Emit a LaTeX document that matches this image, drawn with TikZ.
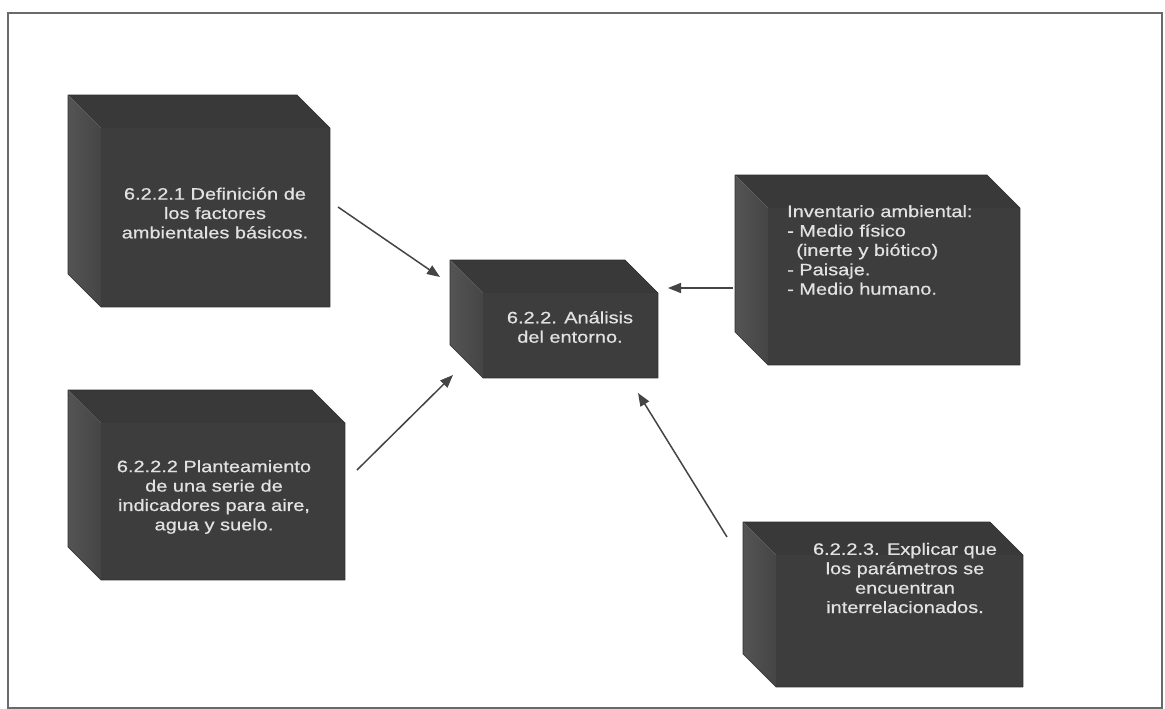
\documentclass[tikz,border=0pt]{standalone}
\usepackage{fontspec}
\setmainfont[FakeStretch=1.21, FakeBold=0.6]{Liberation Sans}
\usetikzlibrary{arrows.meta}

\definecolor{frontgray}{HTML}{3D3D3D}
\definecolor{topgray}{HTML}{393939}
\definecolor{sidelight}{HTML}{545454}
\definecolor{sidedark}{HTML}{454545}
\definecolor{edgegray}{HTML}{2E2E2E}
\definecolor{labelgray}{HTML}{E2E2E2}
\definecolor{linegray}{HTML}{444444}
\definecolor{framegray}{HTML}{6A6A6A}

% a bevelled box: front face, top face and left face; #1 name, (#2,#3) top left, (#4,#5) bottom right
\newcommand{\slabbox}[5]{%
  \fill[topgray] (#2,#3) -- (#4-33,#3) -- (#4,#3+33) -- (#2+33,#3+33) -- cycle;
  \shade[left color=sidelight, right color=sidedark]
    (#2,#3) -- (#2+33,#3+33) -- (#2+33,#5) -- (#2,#5-33) -- cycle;
  \node[frontface, minimum width=#4-#2-33, minimum height=#5-#3-33, anchor=north west]
    (#1) at (#2+33,#3+33) {};
  \draw[edgegray, line width=0.6pt, line join=round]
    (#2,#3) -- (#4-33,#3) -- (#4,#3+33) -- (#4,#5) -- (#2+33,#5) -- (#2,#5-33) -- cycle;
}

\tikzset{
  frontface/.style={fill=frontgray, draw=none, inner sep=0pt, outer sep=0pt, rectangle},
  boxlabel/.style={text=labelgray, font=\fontsize{16.5}{19.4}\selectfont, inner sep=0pt},
  feed/.style={draw=linegray, line width=1.5pt, -{Triangle[length=13pt,width=10pt]}},
}

\begin{document}
\begin{tikzpicture}[x=1pt, y=-1pt]
  \useasboundingbox (0,0) rectangle (1165,709);
  \draw[framegray, line width=1.8pt] (8,13) rectangle (1162,708);

  \slabbox{defin}{68}{95}{330}{307}
  \slabbox{plant}{68}{390}{345}{580}
  \slabbox{entorno}{450}{260}{658}{378}
  \slabbox{invent}{735}{175}{1020}{365}
  \slabbox{explic}{743}{522}{1023}{687}

  \node[boxlabel, align=center] (tdefin) at (215,213)
    {6.2.2.1 Definición de\\los factores\\ambientales básicos.};
  \node[boxlabel, align=center] (tplant) at (214,497)
    {6.2.2.2 Planteamiento\\de una serie de\\indicadores para aire,\\agua y suelo.};
  \node[boxlabel, align=center] (tentorno) at (570,327)
    {6.2.2. Análisis\\del entorno.};
  \node[boxlabel, align=left, anchor=west] (tinvent) at (787,250)
    {Inventario ambiental:\\- Medio físico\\\hspace*{0.55em}(inerte y biótico)\\- Paisaje.\\- Medio humano.};
  \node[boxlabel, align=center] (texplic) at (905,578)
    {6.2.2.3. Explicar que\\los parámetros se\\encuentran\\interrelacionados.};

  % arrow end points, set off from the boxes
  \coordinate (a1s) at (338,207);  \coordinate (a1e) at (440,277);
  \coordinate (a2s) at (357,470);  \coordinate (a2e) at (453,375);
  \coordinate (a3s) at (727,537);  \coordinate (a3e) at (638,393);
  \coordinate (a4s) at (733,288);  \coordinate (a4e) at (668,288);

  \draw[feed] (a1s) -- (a1e);
  \draw[feed] (a2s) -- (a2e);
  \draw[feed] (a3s) -- (a3e);
  \draw[feed] (a4s) -- (a4e);
\end{tikzpicture}
\end{document}
